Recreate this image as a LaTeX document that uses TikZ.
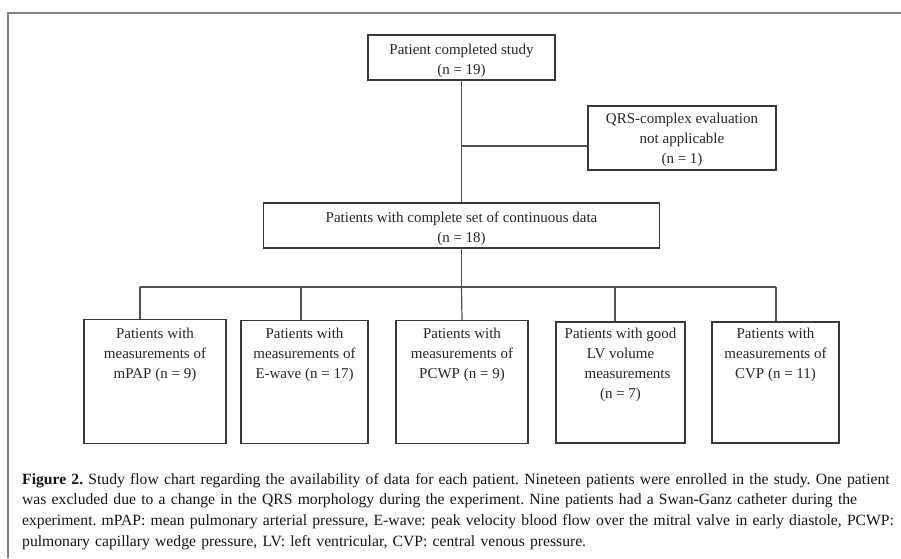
\documentclass[tikz,border=0pt]{standalone}
\usepackage{fontspec}
\setmainfont{Liberation Serif}
\begin{document}
\begin{tikzpicture}[x=1pt,y=-1pt,
  frame/.style={draw=black!50,line width=1.6pt},
  boxs/.style={draw=black!78,line width=1.1pt,inner sep=0pt},
  conn/.style={draw=black!68,line width=1.2pt},
  btext/.style={align=center,inner sep=0pt,font=\fontsize{15}{19.8}\selectfont,text=black!85},
  capt/.style={anchor=north west,inner sep=0pt,text width=880pt,align=left,font=\fontsize{15.65}{20.7}\selectfont\frenchspacing,text=black!92}]
\useasboundingbox (0,0) rectangle (901,558);
\fill[white] (0,0) rectangle (901,558);
% outer frame (cropped at right and bottom)
\draw[frame] (8,558) -- (8,13) -- (901,13);
% top boxes
\node[boxs,minimum width=187pt,minimum height=45pt] (top) at (461.5,57.5) {};
\node[btext] (toptxt) at (461.5,61) {Patient completed study\\(n = 19)};
\node[boxs,minimum width=188pt,minimum height=64pt] (qrs) at (682,138) {};
\node[btext] (qrstxt) at (682,140) {QRS-complex evaluation\\not applicable\\(n = 1)};
\node[boxs,minimum width=396pt,minimum height=45pt] (mid) at (461.5,225.5) {};
\node[btext] (midtxt) at (461.5,228.5) {Patients with complete set of continuous data\\(n = 18)};
% bottom boxes
\node[boxs,minimum width=142pt,minimum height=124pt] (b1) at (155,381.5) {};
\node[boxs,minimum width=127pt,minimum height=123pt] (b2) at (304.5,382) {};
\node[boxs,minimum width=132pt,minimum height=123pt] (b3) at (462,382) {};
\node[boxs,minimum width=129pt,minimum height=121pt] (b4) at (620.5,382.5) {};
\node[boxs,minimum width=127pt,minimum height=121pt] (b5) at (775.5,382.5) {};
\node[btext,anchor=north] (t1) at (155,328) {Patients with\\measurements of\\mPAP (n = 9)};
\node[btext,anchor=north] (t2) at (304.5,328) {Patients with\\measurements of\\E-wave (n = 17)};
\node[btext,anchor=north] (t3) at (462,328) {Patients with\\measurements of\\PCWP (n = 9)};
\node[btext,anchor=north] (t4) at (620.5,328) {Patients with good\\LV volume\\\hspace*{14pt}measurements\\(n = 7)};
\node[btext,anchor=north] (t5) at (775.5,328) {Patients with\\measurements of\\CVP (n = 11)};
% connectors
\coordinate (j1) at (461.5,146);
\coordinate (bar) at (461.5,287);
\coordinate (d1) at (140,287);
\coordinate (d2) at (301,287);
\coordinate (d4) at (615,287);
\coordinate (d5) at (776,287);
\draw[conn] (top.south) -- (mid.north);
\draw[conn] (j1) -- (j1 -| qrs.west);
\draw[conn] (mid.south) -- (bar);
\draw[conn] (d1) -- (d5);
\draw[conn] (d1) -- (d1 |- b1.north);
\draw[conn] (d2) -- (d2 |- b2.north);
\draw[conn] (bar) -- (b3.north);
\draw[conn] (d4) -- (d4 |- b4.north);
\draw[conn] (d5) -- (d5 |- b5.north);
% caption
\node[capt] (cap) at (22,473) {\textbf{Figure 2.} Study flow chart regarding the availability of data for each patient. Nineteen patients were enrolled in the study. One patient\\
was excluded due to a change in the QRS morphology during the experiment. Nine patients had a Swan-Ganz catheter during the\\
experiment. mPAP: mean pulmonary arterial pressure, E-wave: peak velocity blood flow over the mitral valve in early diastole, PCWP:\\
pulmonary capillary wedge pressure, LV: left ventricular, CVP: central venous pressure.};
\end{tikzpicture}
\end{document}
